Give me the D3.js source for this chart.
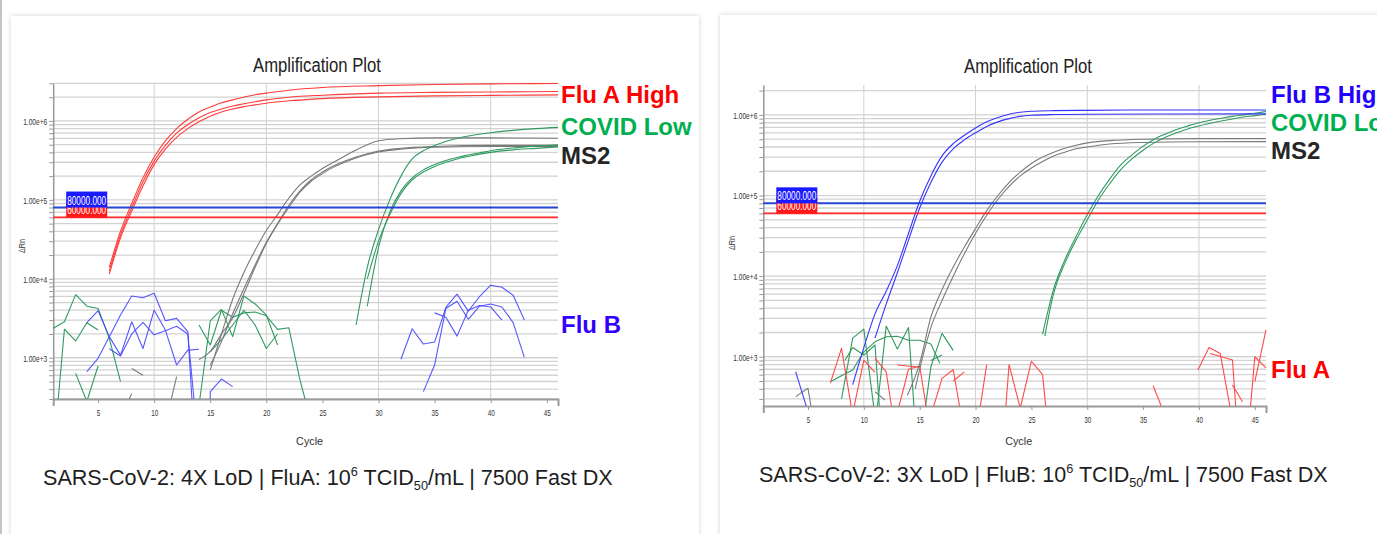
<!DOCTYPE html>
<html>
<head>
<meta charset="utf-8">
<script src="https://cdn.jsdelivr.net/npm/d3@7"></script>
<style>
  html, body { margin: 0; padding: 0; background: #fff; }
  svg { display: block; font-family: "Liberation Sans", Arial, sans-serif; }
</style>
</head>
<body>
<svg id="chart" width="1377" height="534"></svg>
<script>
// ---- data: [cycle, deltaRn] ----

// left plot: SARS-CoV-2 4X LoD, Flu A high
const leftFluAHigh = [
  [[6,1.4e4],[7,4.0e4],[8,9.0e4],[9,1.9e5],[10,3.5e5],[11,5.6e5],[12,8.0e5],[13,1.05e6],[14,1.3e6],[15,1.5e6],[16,1.7e6],[17,1.85e6],[18,2.0e6],[19,2.15e6],[20,2.25e6],[22,2.45e6],[25,2.65e6],[30,2.8e6],[35,2.9e6],[40,2.95e6],[46,2.98e6]],
  [[6,1.25e4],[7,3.6e4],[8,8.0e4],[9,1.7e5],[10,3.1e5],[11,4.9e5],[12,7.0e5],[13,9.0e5],[14,1.1e6],[15,1.28e6],[16,1.42e6],[17,1.55e6],[18,1.65e6],[19,1.75e6],[20,1.85e6],[22,2.0e6],[25,2.12e6],[30,2.25e6],[35,2.3e6],[40,2.33e6],[46,2.36e6]],
  [[6,1.15e4],[7,3.3e4],[8,7.2e4],[9,1.5e5],[10,2.8e5],[11,4.4e5],[12,6.2e5],[13,8.0e5],[14,9.8e5],[15,1.15e6],[16,1.3e6],[17,1.42e6],[18,1.52e6],[19,1.6e6],[20,1.68e6],[22,1.8e6],[25,1.92e6],[30,2.02e6],[35,2.08e6],[40,2.11e6],[46,2.14e6]]
];
const leftMS2 = [
  [[15,700],[16,2.0e3],[17,5.5e3],[18,1.2e4],[19,2.3e4],[20,4.1e4],[21,6.5e4],[22,1.05e5],[23,1.55e5],[24,2.0e5],[25,2.5e5],[26,3.0e5],[27,3.6e5],[28,4.3e5],[29,5.0e5],[30,5.6e5],[32,5.95e5],[35,6.1e5],[40,6.1e5],[46,6.05e5]],
  [[15,800],[16,1.6e3],[17,3.6e3],[18,7.5e3],[19,1.5e4],[20,2.9e4],[21,5.0e4],[22,8.5e4],[23,1.3e5],[24,1.8e5],[25,2.25e5],[26,2.7e5],[27,3.1e5],[28,3.5e5],[29,3.85e5],[30,4.15e5],[32,4.5e5],[35,4.75e5],[40,4.9e5],[46,4.9e5]],
  [[14,950],[15,1.2e3],[16,2.0e3],[17,3.2e3],[18,6.5e3],[19,1.4e4],[20,2.8e4],[21,4.9e4],[22,8.0e4],[23,1.25e5],[24,1.72e5],[25,2.15e5],[26,2.6e5],[27,3.0e5],[28,3.4e5],[29,3.75e5],[30,4.05e5],[32,4.4e5],[35,4.65e5],[40,4.75e5],[46,4.75e5]]
];
const leftMS2Noise = [
  [[7.5,250],[8,350]],
  [[8,730],[9,600]],
  [[11.4,250],[12,575]]
];
const leftCovidLow = [
  [[28,2.6e3],[29,1.4e4],[30,4.2e4],[31,1.0e5],[32,2.0e5],[33,3.3e5],[34,4.2e5],[35,4.9e5],[36,5.5e5],[37,6.0e5],[38,6.45e5],[39,6.8e5],[40,7.1e5],[42,7.6e5],[44,8.0e5],[46,8.3e5]],
  [[29,4.5e3],[30,2.5e4],[31,7.0e4],[32,1.3e5],[33,1.9e5],[34,2.4e5],[35,2.8e5],[36,3.15e5],[37,3.45e5],[38,3.7e5],[39,3.95e5],[40,4.2e5],[42,4.55e5],[44,4.8e5],[46,5.0e5]],
  [[29,1.0e4],[30,3.0e4],[31,6.5e4],[32,1.2e5],[33,1.8e5],[34,2.25e5],[35,2.65e5],[36,3.0e5],[37,3.3e5],[38,3.55e5],[39,3.8e5],[40,4.0e5],[42,4.3e5],[44,4.5e5],[46,4.7e5]]
];
const leftCovidNoise = [
  [[1,2.36e3],[2,2.86e3],[3,6.3e3],[4,4.5e3],[5,4.2e3],[6,1.76e3],[7,497]],
  [[1.4,250],[2,2.3e3],[3,1.63e3],[4,2.78e3],[5,2.25e3]],
  [[3,634],[4,280],[5,785]],
  [[14,2.6e3],[15,1.45e3],[16,4.0e3],[17,3.25e3],[18,3.7e3],[19,3.8e3],[20,3.4e3],[21,2.29e3],[22,2.4e3],[23,520],[23.6,250]],
  [[14,250],[15,2.94e3],[16,4.1e3],[17,1.85e3],[18,6.05e3],[19,4.8e3],[20,3.47e3],[21,1.45e3]],
  [[15,1.19e3],[16,1.7e3],[17,2.6e3],[18,4.0e3],[19,2.6e3],[20,1.31e3],[21,2.0e3]]
];
const leftFluBNoise = [
  [[4,665],[5,983],[6,1.85e3],[7,3.47e3],[8,6.05e3],[9,5.75e3],[10,6.55e3],[11,2.94e3],[12,3.15e3],[13,2.14e3],[13.4,250]],
  [[4,2.78e3],[5,3.94e3],[6,1.85e3],[7,1.08e3],[8,2.86e3],[9,1.31e3],[10,4.0e3],[11,2.24e3],[12,808],[13,1.25e3],[14,1.28e3]],
  [[6,1.3e3],[7,1.05e3],[8,2.0e3],[9,2.8e3],[10,1.95e3],[11,2.2e3],[12,2.5e3],[13,2.0e3],[13.6,250]],
  [[15,250],[15,372],[16,537],[17,430]],
  [[32,955],[33,2.33e3],[34,1.49e3],[35,1.58e3],[36,4.35e3],[37,6.4e3],[38,3.9e3],[39,5.93e3],[40,8.3e3],[41,7.8e3],[42,6.2e3],[43,3.0e3]],
  [[34,372],[35,808],[36,4.2e3],[37,5.2e3],[38,3.07e3],[39,4.5e3],[40,4.8e3],[41,4.4e3],[42,2.78e3],[43,1.01e3]],
  [[35,3.7e3],[36,3.25e3],[37,1.88e3],[38,4.0e3],[39,4.6e3],[40,4.4e3],[41,3.0e3]]
];

// right plot: SARS-CoV-2 3X LoD, Flu B high
const rightFluBHigh = [
  [[9,450],[10,1.3e3],[11,3.4e3],[12,6.5e3],[13,1.35e4],[14,3.4e4],[15,8.5e4],[16,1.75e5],[17,3.1e5],[18,4.4e5],[19,5.6e5],[20,6.9e5],[21,8.2e5],[22,9.3e5],[23,1.02e6],[24,1.08e6],[25,1.11e6],[27,1.13e6],[30,1.14e6],[35,1.15e6],[46,1.15e6]],
  [[11,1.7e3],[12,4.5e3],[13,1.1e4],[14,2.8e4],[15,7.0e4],[16,1.45e5],[17,2.6e5],[18,3.8e5],[19,4.9e5],[20,6.0e5],[21,7.2e5],[22,8.2e5],[23,9.0e5],[24,9.6e5],[25,9.9e5],[27,1.01e6],[30,1.02e6],[46,1.03e6]]
];
const rightFluBNoise = [
  [[3.9,651],[4.9,230]]
];
const rightMS2 = [
  [[13.9,334],[15,830],[16,3.1e3],[17,6.8e3],[18,1.3e4],[19,2.3e4],[20,3.9e4],[21,6.5e4],[22,1.0e5],[23,1.45e5],[24,1.95e5],[25,2.5e5],[26,3.0e5],[27,3.45e5],[28,3.85e5],[29,4.2e5],[30,4.5e5],[32,4.8e5],[35,5.0e5],[40,5.1e5],[46,5.1e5]],
  [[14.6,400],[15,700],[16,2.3e3],[17,5.0e3],[18,1.0e4],[19,1.9e4],[20,3.4e4],[21,5.7e4],[22,9.0e4],[23,1.3e5],[24,1.75e5],[25,2.2e5],[26,2.65e5],[27,3.1e5],[28,3.45e5],[29,3.8e5],[30,4.0e5],[32,4.35e5],[35,4.55e5],[40,4.65e5],[46,4.66e5]]
];
const rightMS2Noise = [
  [[3.9,320],[5,406],[5.3,230]],
  [[11,368],[11.9,290]]
];
const rightCovidLow = [
  [[26,1.9e3],[27,7.0e3],[28,1.6e4],[29,3.1e4],[30,5.8e4],[31,1.0e5],[32,1.6e5],[33,2.4e5],[34,3.2e5],[35,4.1e5],[36,5.0e5],[37,5.8e5],[38,6.6e5],[39,7.3e5],[40,8.0e5],[41,8.6e5],[42,9.1e5],[43,9.6e5],[44,1.0e6],[45,1.05e6],[46,1.1e6]],
  [[26.2,1.8e3],[27,6.2e3],[28,1.45e4],[29,2.8e4],[30,5.0e4],[31,8.8e4],[32,1.4e5],[33,2.1e5],[34,2.85e5],[35,3.65e5],[36,4.5e5],[37,5.3e5],[38,6.0e5],[39,6.7e5],[40,7.3e5],[41,7.9e5],[42,8.4e5],[43,8.9e5],[44,9.4e5],[45,9.8e5],[46,1.02e6]]
];
const rightCovidNoise = [
  [[7,490],[8,580],[9,685],[10,1.15e3],[11,1.53e3],[12,1.77e3],[13,1.8e3],[14,1.6e3],[15,1.6e3],[16,1.44e3],[16.8,830]],
  [[8,300],[9,1.7e3],[10,2.2e3],[10.9,230]],
  [[11.2,230],[12,2.4e3],[13,1.25e3],[14,2.3e3],[14.5,230]],
  [[8.3,900],[9,1.3e3],[10,1.05e3],[11,1.4e3],[11.4,230]],
  [[15.5,230],[16,750],[17,1.95e3],[18,1.2e3]],
  [[16,900],[17,1.05e3]]
];
const rightFluANoise = [
  [[7,470],[8,1.27e3],[8.9,230]],
  [[9.1,230],[10,910],[11,640]],
  [[11,960],[12,650],[12.5,230]],
  [[13.1,230],[14,700],[15,770],[15.6,230]],
  [[13,790],[15,740]],
  [[16.2,230],[17,540],[18,690],[18.6,230]],
  [[18,500],[19,650]],
  [[20.4,230],[21,800]],
  [[22.7,230],[23,800],[24,230]],
  [[24,230],[25,880],[26,600],[26.3,230]],
  [[35.9,436],[36.7,230]],
  [[39.9,684],[40.9,1.3e3],[41.9,1.1e3],[42.8,230]],
  [[41,1.1e3],[43,910],[43.3,230]],
  [[43,445],[43.9,277]],
  [[44.6,230],[45,1.0e3],[46,730]],
  [[45,490],[46,2.15e3]]
];

// thresholds, ticks and texts
const thresholds = [60000, 80000];
const thresholdLabels = ["60000.000", "80000.000"];
const xTicks = [5, 10, 15, 20, 25, 30, 35, 40, 45];
const xGrid = [10, 20, 30, 40];
const yMajor = [1e3, 1e4, 1e5, 1e6];
const yMajorLabels = ["1.00e+3", "1.00e+4", "1.00e+5", "1.00e+6"];
const leftTags = ["Flu A High", "COVID Low", "MS2", "Flu B"];
const rightTags = ["Flu B High", "COVID Low", "MS2", "Flu A"];

const svg = d3.select("#chart");
const defs = svg.append("defs");

const shadow = defs.append("filter").attr("id", "cardShadow")
  .attr("x", "-5%").attr("y", "-5%").attr("width", "110%").attr("height", "110%");
shadow.append("feDropShadow").attr("dx", 0).attr("dy", 0)
  .attr("stdDeviation", 2.5).attr("flood-color", "#000").attr("flood-opacity", 0.18);

// thin rule on the far left
svg.append("rect").attr("x", 0).attr("y", 0).attr("width", 2).attr("height", 534).attr("fill", "#c4c4c4");

function squeeze(sel, k) {
  sel.each(function() {
    const w = this.getComputedTextLength();
    d3.select(this).attr("textLength", w * k).attr("lengthAdjust", "spacingAndGlyphs");
  });
}

function fitWidth(el, width) {
  d3.select(el).attr("textLength", width).attr("lengthAdjust", "spacingAndGlyphs");
}

function drawPanel(p) {
  svg.append("rect").attr("x", p.card[0]).attr("y", p.card[1])
    .attr("width", p.card[2]).attr("height", p.card[3])
    .attr("fill", "#fff").attr("filter", "url(#cardShadow)");

  const g = svg.append("g");
  const x = d3.scaleLinear().domain([1, 46]).range([p.x0, p.x1]);
  const y = d3.scaleLog().domain(p.yDomain).range([p.yBot, p.yTop]);

  defs.append("clipPath").attr("id", "clip-" + p.id)
    .append("rect").attr("x", p.x0).attr("y", p.yTop - 2)
    .attr("width", p.x1 - p.x0 + 1).attr("height", p.yBot - p.yTop + 2);

  const minor = [];
  for (let e = 2; e <= 6; e++) {
    for (let k = 1; k <= 9; k++) {
      const v = k * Math.pow(10, e);
      if (v >= p.yDomain[0] && v <= p.yDomain[1] * 1.001) minor.push(v);
    }
  }

  // grid
  g.append("g").selectAll("line").data(minor).join("line")
    .attr("x1", p.x0).attr("x2", p.x1)
    .attr("y1", d => y(d)).attr("y2", d => y(d))
    .attr("stroke", "#d2d2d2").attr("stroke-width", 1.3);
  g.append("g").selectAll("line").data(xGrid).join("line")
    .attr("x1", d => x(d)).attr("x2", d => x(d))
    .attr("y1", p.yTop).attr("y2", p.yBot)
    .attr("stroke", "#d0d0d0").attr("stroke-width", 1);

  // axes
  const yAxis = g.append("g").attr("transform", `translate(${p.x0},0)`)
    .call(d3.axisLeft(y).tickValues(minor).tickSize(4).tickSizeOuter(0)
      .tickFormat(d => {
        const i = yMajor.indexOf(d);
        return i >= 0 ? yMajorLabels[i] : "";
      }));
  yAxis.select(".domain").attr("stroke", "#999").attr("stroke-width", 1.5);
  yAxis.selectAll(".tick line").attr("stroke", "#999");
  yAxis.selectAll(".tick text").attr("font-family", "Liberation Sans, Arial, sans-serif")
    .attr("font-size", 8.5).attr("fill", "#333").attr("x", -6).attr("dy", "0.4em");
  yAxis.selectAll(".tick text").filter(function() { return this.textContent !== ""; })
    .each(function() { fitWidth(this, 24); });

  const xAxis = g.append("g").attr("transform", `translate(0,${p.yBot})`)
    .call(d3.axisBottom(x).tickValues(xTicks).tickSize(4).tickSizeOuter(7));
  xAxis.select(".domain").attr("stroke", "#9a9a9a").attr("stroke-width", 2);
  xAxis.selectAll(".tick line").attr("stroke", "#999");
  xAxis.selectAll(".tick text").attr("font-family", "Liberation Sans, Arial, sans-serif")
    .attr("font-size", 9).attr("fill", "#333").attr("y", 11);
  squeeze(xAxis.selectAll(".tick text"), 0.7);

  // series
  const plot = g.append("g").attr("clip-path", `url(#clip-${p.id})`);
  const smooth = d3.line().x(d => x(d[0])).y(d => y(d[1])).curve(d3.curveMonotoneX);
  const jagged = d3.line().x(d => x(d[0])).y(d => y(d[1]));
  p.series.forEach(s => {
    plot.append("g").selectAll("path").data(s.data).join("path")
      .attr("d", s.smooth ? smooth : jagged)
      .attr("fill", "none").attr("stroke", s.color)
      .attr("stroke-width", s.width || 1.1).attr("stroke-linejoin", "round")
      .attr("opacity", s.opacity || 1);
  });

  // thresholds
  const thrColors = ["#ff2a2a", "#2346d8"];
  thresholds.forEach((t, i) => {
    g.append("line").attr("x1", p.x0).attr("x2", p.x1)
      .attr("y1", y(t)).attr("y2", y(t))
      .attr("stroke", thrColors[i]).attr("stroke-width", i ? 2 : 1.6);
  });
  thresholds.forEach((t, i) => {
    const by = y(t) - 16;
    g.append("rect").attr("x", p.x0 + 13).attr("y", by).attr("width", 41).attr("height", 16)
      .attr("fill", i ? "#1a1aff" : "#ff1a1a");
    const tx = g.append("text").attr("x", p.x0 + 33.5).attr("y", by + 13)
      .attr("text-anchor", "middle").attr("font-size", 12).attr("fill", "#fff")
      .text(thresholdLabels[i]);
    fitWidth(tx.node(), 39);
  });

  // titles
  const title = g.append("text").attr("x", p.titleX).attr("y", p.titleY)
    .attr("text-anchor", "middle").attr("font-size", 20).attr("fill", "#222")
    .text("Amplification Plot");
  fitWidth(title.node(), 128);

  const xl = g.append("text").attr("x", (p.x0 + p.x1) / 2 + 4).attr("y", 445)
    .attr("text-anchor", "middle").attr("font-size", 11).attr("fill", "#333").text("Cycle");
  fitWidth(xl.node(), 27);

  const yl = g.append("text").attr("transform", `translate(${p.x0 - 28},${p.yLabelY}) rotate(-90)`)
    .attr("text-anchor", "middle").attr("font-size", 9).attr("fill", "#333").text("ΔRn");
  fitWidth(yl.node(), 14);

  // tags at the right of the plot
  p.tags.forEach((t, i) => {
    g.append("text").attr("x", p.tagX).attr("y", p.tagY[i])
      .attr("font-size", 24).attr("font-weight", "bold").attr("fill", p.tagColors[i])
      .text(t);
  });

  // caption under the plot
  const cap = g.append("g").attr("transform", `translate(${p.capX},${p.capY})`);
  const ct = cap.append("text").attr("x", 0).attr("y", 0).attr("font-size", 22).attr("fill", "#1e1e1e");
  ct.append("tspan").text(p.caption[0]);
  ct.append("tspan").attr("font-size", 13).attr("dy", -9).text(p.caption[1]);
  ct.append("tspan").attr("dy", 9).text(p.caption[2]);
  ct.append("tspan").attr("font-size", 13).attr("dy", 5).text(p.caption[3]);
  ct.append("tspan").attr("dy", -5).text(p.caption[4]);
  const w = ct.node().getComputedTextLength();
  cap.attr("transform", `translate(${p.capX},${p.capY}) scale(${p.capW / w},1)`);
}

const red = "#ff3b3b", gray = "#7a7a7a", green = "#2f9a60", blue = "#3434ff";

drawPanel({
  id: "left",
  card: [11, 16, 688, 540],
  x0: 53.2, x1: 558, yTop: 83.3, yBot: 399, yDomain: [300, 3e6],
  titleX: 317, titleY: 71.5, yLabelY: 246,
  tagX: 561, tagY: [102.5, 134.5, 163.5, 333],
  tags: leftTags, tagColors: ["#ff0000", "#00b050", "#262626", "#3300ff"],
  capX: 43, capY: 485, capW: 570,
  caption: ["SARS-CoV-2: 4X LoD | FluA: 10", "6", " TCID", "50", "/mL | 7500 Fast DX"],
  series: [
    { data: leftMS2Noise, color: gray },
    { data: leftCovidNoise, color: green },
    { data: leftFluBNoise, color: "#4646ff", opacity: 0.9 },
    { data: leftMS2, color: gray, smooth: true },
    { data: leftCovidLow, color: green, smooth: true },
    { data: leftFluAHigh, color: red, smooth: true }
  ]
});

drawPanel({
  id: "right",
  card: [720, 15, 680, 540],
  x0: 763.3, x1: 1266, yTop: 85, yBot: 406, yDomain: [245, 2.35e6],
  titleX: 1028, titleY: 73, yLabelY: 243,
  tagX: 1271, tagY: [102.5, 130.5, 158.5, 377.5],
  tags: rightTags, tagColors: ["#2200ff", "#00b050", "#262626", "#ff0000"],
  capX: 759, capY: 481.5, capW: 569,
  caption: ["SARS-CoV-2: 3X LoD | FluB: 10", "6", " TCID", "50", "/mL | 7500 Fast DX"],
  series: [
    { data: rightMS2Noise, color: gray },
    { data: rightFluBNoise, color: "#4646ff" },
    { data: rightCovidNoise, color: green },
    { data: rightFluANoise, color: "#ff4a4a" },
    { data: rightMS2, color: gray, smooth: true },
    { data: rightCovidLow, color: green, smooth: true },
    { data: rightFluBHigh, color: blue, smooth: true }
  ]
});
</script>
</body>
</html>
